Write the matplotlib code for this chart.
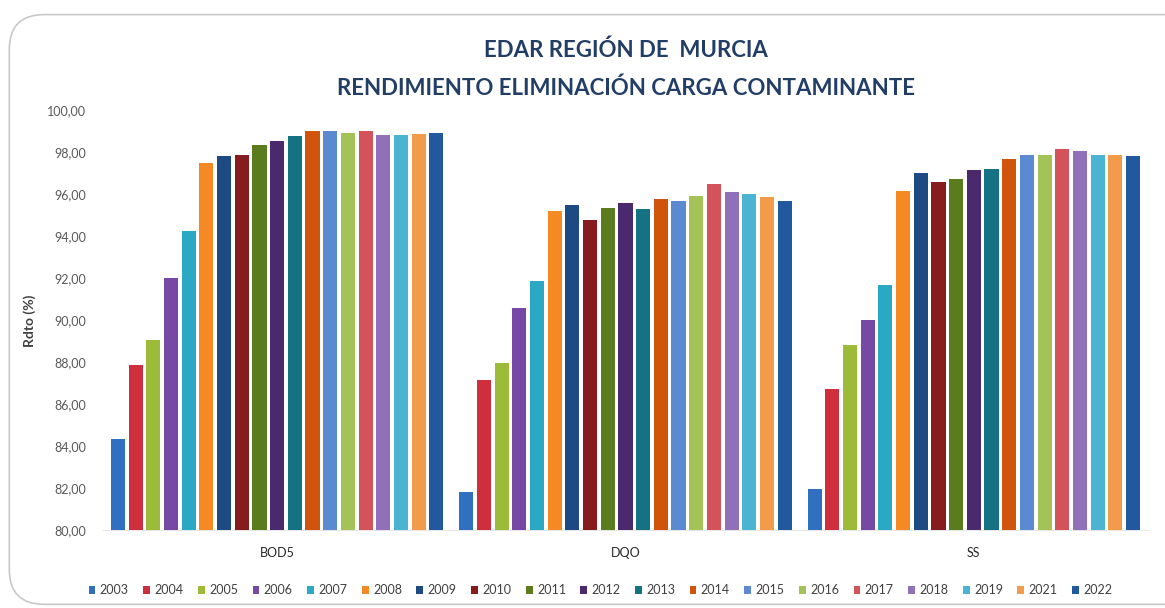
import numpy as np
import matplotlib.pyplot as plt
from matplotlib.patches import FancyBboxPatch

# data
params = ["BOD5", "DQO", "SS"]
years = ["2003", "2004", "2005", "2006", "2007", "2008", "2009", "2010", "2011", "2012",
         "2013", "2014", "2015", "2016", "2017", "2018", "2019", "2021", "2022"]

bod5 = [84.33, 87.86, 89.05, 92.03, 94.25, 97.51, 97.82, 97.89, 98.38, 98.57,
        98.78, 99.05, 99.02, 98.92, 99.03, 98.84, 98.84, 98.89, 98.95]
dqo = [81.82, 87.14, 87.97, 90.59, 91.90, 95.24, 95.51, 94.81, 95.38, 95.62,
       95.33, 95.79, 95.70, 95.92, 96.51, 96.11, 96.02, 95.90, 95.70]
ss = [81.95, 86.73, 88.84, 90.00, 91.67, 96.19, 97.03, 96.59, 96.75, 97.18,
      97.24, 97.70, 97.89, 97.88, 98.18, 98.10, 97.88, 97.88, 97.84]

colors = ["#3170C0", "#CF2F3C", "#9CBB38", "#7549A5", "#2AA8C4", "#F58A24", "#1D4A82",
          "#861C1E", "#5A7C1E", "#4A2A6C", "#157283", "#D0540C", "#5C8AD0", "#A3C359",
          "#D4525A", "#9070B8", "#4CB4D3", "#F29B4A", "#21589E"]

plt.rcParams['font.family'] = ['Lato', 'DejaVu Sans']

fig = plt.figure(figsize=(11.65, 6.08), dpi=100)
ax = fig.add_axes([0.0884, 0.128, 0.897, 0.69])

# rounded frame around the chart
frame = FancyBboxPatch((0.008, 0.006), 1.05, 0.97, boxstyle="round,pad=0,rounding_size=0.03",
                       transform=fig.transFigure, facecolor="white", edgecolor="#C8C8C8",
                       linewidth=1.2, zorder=-10, mutation_aspect=1.9)
fig.patches.append(frame)

values = np.array([bod5, dqo, ss])
n = len(years)
x = np.arange(len(params))
slot = 0.965 / n
for i in range(n):
    ax.bar(x - 0.965 / 2 + slot * (i + 0.5), values[:, i], width=slot * 0.8,
           color=colors[i], label=years[i], zorder=3)

ax.set_xlim(-0.5, 2.5)
ax.set_ylim(80, 100)
ax.set_yticks(np.arange(80, 101, 2))
ax.set_yticklabels([f"{v:.2f}".replace(".", ",") for v in np.arange(80, 101, 2)],
                   fontsize=9, color="#595959")
ax.set_xticks(x)
ax.set_xticklabels(params, fontsize=9, color="#262626")
ax.tick_params(length=0, pad=12)
ax.tick_params(axis='y', pad=12)
for s in ["top", "right", "left"]:
    ax.spines[s].set_visible(False)
ax.spines["bottom"].set_color("#E6E6E6")
ax.set_facecolor("none")
ax.set_ylabel("Rdto (%)", fontsize=10, fontweight="bold", color="#404040", labelpad=8)

fig.text(0.537, 0.917, "EDAR REGIÓN DE  MURCIA", ha="center", va="center",
         fontsize=16, fontweight="bold", color="#223D66")
fig.text(0.537, 0.855, "RENDIMIENTO ELIMINACIÓN CARGA CONTAMINANTE", ha="center", va="center",
         fontsize=16, fontweight="bold", color="#223D66")

leg = ax.legend(loc="upper center", bbox_to_anchor=(0.476, -0.102), ncol=n, frameon=False,
                fontsize=9, handlelength=0.55, handleheight=0.55, handletextpad=0.35,
                columnspacing=1.15)
for t in leg.get_texts():
    t.set_color("#404040")

fig.savefig("out.png", dpi=100, facecolor="white")
